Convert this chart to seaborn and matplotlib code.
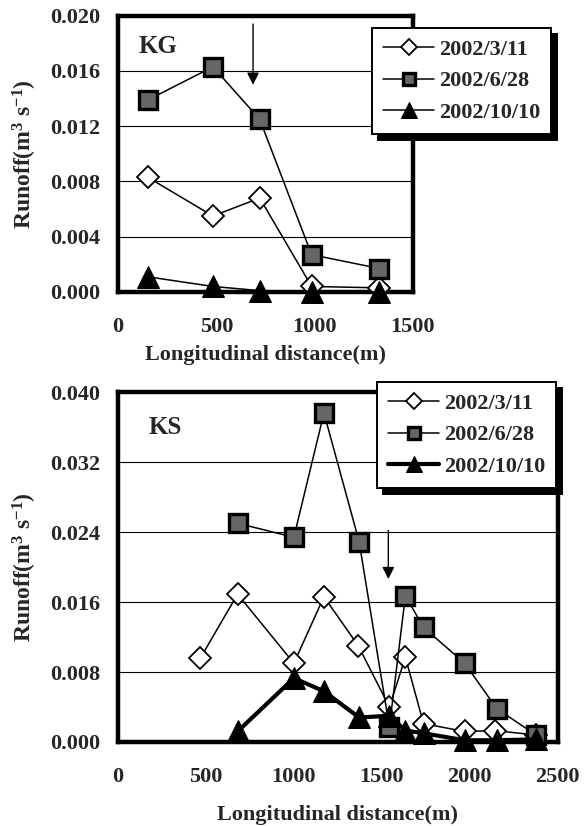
import numpy as np
import pandas as pd
import matplotlib
matplotlib.use('Agg')
import matplotlib.pyplot as plt
import seaborn as sns

sns.set_style('white')
plt.rcParams['font.family'] = ['Liberation Serif', 'DejaVu Serif']
plt.rcParams['font.weight'] = 'bold'
plt.rcParams['mathtext.fontset'] = 'custom'
plt.rcParams['mathtext.rm'] = 'Liberation Serif:bold'
plt.rcParams['mathtext.default'] = 'rm'

# 데이터 - KG
kg_x = [152, 483, 721, 985, 1330]
kg_0311 = [0.0083, 0.0055, 0.0068, 0.0004, 0.0003]
kg_0628 = [0.0139, 0.0163, 0.0125, 0.0027, 0.0017]
kg_1010 = [0.0011, 0.0004, 0.0001, 0.0000, 0.0000]

# 데이터 - KS
ks_x_0311 = [469, 680, 1000, 1171, 1366, 1543, 1634, 1737, 1971, 2143, 2377]
ks_0311 = [0.0096, 0.0169, 0.0090, 0.0166, 0.0110, 0.0040, 0.0097, 0.0021, 0.0012, 0.0013, 0.0008]
ks_x = [680, 1000, 1171, 1371, 1543, 1634, 1737, 1971, 2154, 2377]
ks_0628 = [0.0250, 0.0234, 0.0376, 0.0229, 0.0017, 0.0167, 0.0131, 0.0090, 0.0038, 0.0008]
ks_1010 = [0.0012, 0.0073, 0.0058, 0.0028, 0.0030, 0.0013, 0.0010, 0.0002, 0.0002, 0.0003]

labels = ['2002/3/11', '2002/6/28', '2002/10/10']

fig = plt.figure(figsize=(5.84, 8.26), dpi=100)
ax1 = fig.add_axes([0.202, 0.6465, 0.505, 0.3345])
ax2 = fig.add_axes([0.202, 0.1017, 0.753, 0.4237])

def draw(ax, series, thick_last):
    styles = [
        dict(marker='D', markersize=11, markerfacecolor='white', markeredgecolor='black', markeredgewidth=1.3),
        dict(marker='s', markersize=13, markerfacecolor='#666666', markeredgecolor='black', markeredgewidth=2.4),
        dict(marker='^', markersize=16, markerfacecolor='black', markeredgecolor='black'),
    ]
    for i, (x, y) in enumerate(series):
        lw = 3.0 if (i == 2 and thick_last) else 1.1
        sns.lineplot(x=x, y=y, ax=ax, color='black', linewidth=lw, sort=False,
                     label=labels[i], zorder=3 + i, clip_on=False, **styles[i])

draw(ax1, [(kg_x, kg_0311), (kg_x, kg_0628), (kg_x, kg_1010)], False)
draw(ax2, [(ks_x_0311, ks_0311), (ks_x, ks_0628), (ks_x, ks_1010)], True)

ax1.set_xlim(0, 1500)
ax1.set_ylim(0, 0.020)
ax1.set_xticks([0, 500, 1000, 1500])
ax1.set_yticks(np.arange(0, 0.0201, 0.004))
ax2.set_xlim(0, 2500)
ax2.set_ylim(0, 0.040)
ax2.set_xticks([0, 500, 1000, 1500, 2000, 2500])
ax2.set_yticks(np.arange(0, 0.0401, 0.008))

for ax in (ax1, ax2):
    ax.yaxis.set_major_formatter(plt.FormatStrFormatter('%.3f'))
    ax.grid(axis='y', color='black', linewidth=0.8)
    ax.set_axisbelow(True)
    for s in ax.spines.values():
        s.set_linewidth(3.2)
        s.set_color('black')
    ax.tick_params(length=0, labelsize=16)
    ax.tick_params(axis='y', pad=13)
    ax.tick_params(axis='x', pad=18)
    for t in ax.get_xticklabels() + ax.get_yticklabels():
        t.set_fontweight('bold')
    ax.set_ylabel('Runoff(m$^3$ s$^{-1}$)', fontsize=17, fontweight='bold', labelpad=8)

ax1.set_xlabel('Longitudinal distance(m)', fontsize=16, fontweight='bold', labelpad=6)
ax2.set_xlabel('Longitudinal distance(m)', fontsize=16, fontweight='bold', labelpad=13)

ax1.text(0.07, 0.89, 'KG', transform=ax1.transAxes, fontsize=18, fontweight='bold', va='center')
ax2.text(0.07, 0.90, 'KS', transform=ax2.transAxes, fontsize=18, fontweight='bold', va='center')

ax1.annotate('', xy=(687, 0.0148), xytext=(687, 0.0196),
             arrowprops=dict(arrowstyle='-|>', color='black', lw=1.0, mutation_scale=18))
ax2.annotate('', xy=(1537, 0.0183), xytext=(1537, 0.0245),
             arrowprops=dict(arrowstyle='-|>', color='black', lw=1.0, mutation_scale=18))

for ax, anchor in ((ax1, (0.637, 0.966)), (ax2, (0.6455, 0.5375))):
    leg = ax.legend(loc='upper left', bbox_to_anchor=anchor, bbox_transform=fig.transFigure,
                    fancybox=False, shadow={'color': 'black', 'alpha': 1, 'ox': 4, 'oy': -4},
                    prop={'size': 16, 'weight': 'bold'}, handlelength=2.3, markerscale=0.7,
                    handletextpad=0.2, labelspacing=0.5, borderpad=0.5, borderaxespad=0)
    leg.get_frame().set_edgecolor('black')
    leg.get_frame().set_linewidth(1.4)
    leg.set_zorder(10)

fig.savefig('out.png', dpi=100)
